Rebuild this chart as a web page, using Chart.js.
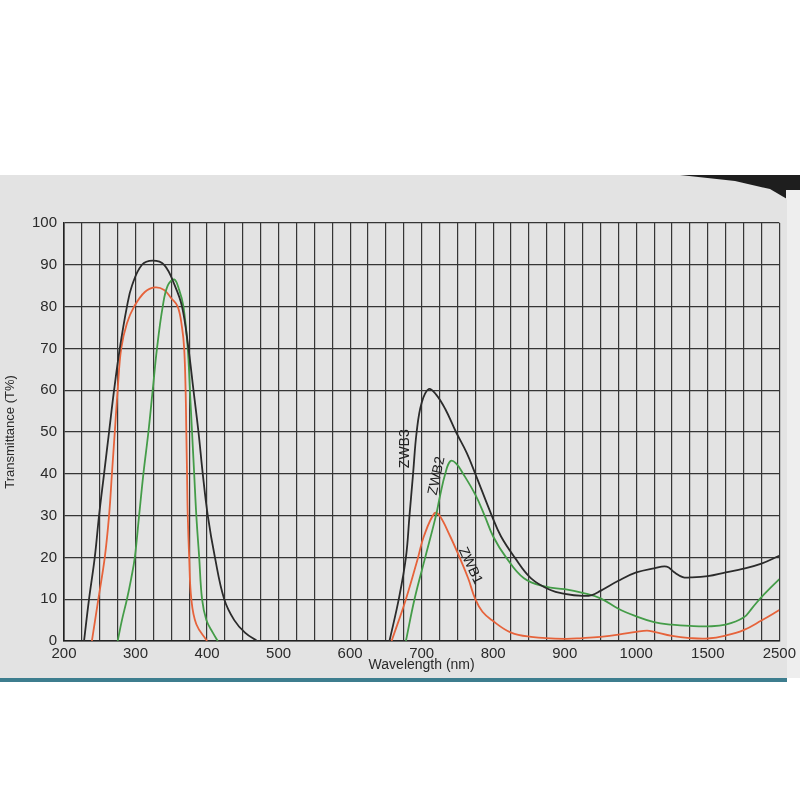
<!DOCTYPE html>
<html>
<head>
<meta charset="utf-8">
<script src="https://cdn.jsdelivr.net/npm/chart.js@4.4.1/dist/chart.umd.min.js"></script>
<style>
  html, body { margin: 0; padding: 0; background: #ffffff; }
  #corner { position: absolute; left: 640px; top: 175px; width: 160px; height: 40px; background: #1e1e1e; }
  #edge { position: absolute; left: 786px; top: 190px; width: 14px; height: 488px; background: #eeeeee; }
  #paper {
    position: absolute; left: 0; top: 175px; width: 787px; height: 503px;
    background: #e3e3e3; border-bottom: 4px solid #3d7d8e;
    clip-path: polygon(0 0, 680px 0, 735px 6px, 770px 14px, 787px 24px, 787px 100%, 0 100%);
  }
  #wrap { position: absolute; left: 0; top: 0; width: 800px; height: 800px; }
</style>
</head>
<body>
<div id="corner"></div>
<div id="edge"></div>
<div id="paper"></div>
<div id="wrap"><canvas id="chart" width="800" height="800"></canvas></div>
<script>
// wavelength axis is piecewise: evenly spaced labels, 4 grid cells each
const xLabels = ['200', '300', '400', '500', '600', '700', '800', '900', '1000', '1500', '2500'];
const tickNm = [200, 300, 400, 500, 600, 700, 800, 900, 1000, 1500, 2500];

// ZWB3 (black)
const zwb3Nm = [228, 235, 243, 249, 256, 263, 270, 278, 288, 295, 309, 324, 340, 355, 365, 374, 381, 388, 394, 401, 411, 424, 438, 453, 470,
  550,
  655, 668, 678, 683, 688, 693, 700, 710, 720, 733, 748, 763, 775, 798, 811, 830, 853, 880, 900, 925, 938, 950, 975, 1000,
  1125, 1213, 1263, 1325, 1375, 1500, 1750, 2000, 2250, 2500];
const zwb3T = [0, 10, 20, 30, 40, 50, 60, 70, 80, 85, 90, 91, 90, 85, 80, 70, 60, 50, 40, 30, 20, 10, 5, 2, 0,
  null,
  0, 10, 20, 30, 40, 50, 57, 60.3, 59, 55.5, 50, 45, 40, 30, 25, 20, 15, 12.2, 11.3, 10.8, 11, 12, 14.4, 16.4,
  17.4, 17.8, 16.5, 15.3, 15.2, 15.5, 16.4, 17.3, 18.5, 20.4];

// ZWB2 (green)
const zwb2Nm = [275, 281, 288, 294, 299, 305, 311, 318, 324, 330, 338, 345, 354, 361, 367, 373, 376, 379, 382, 385, 389, 393, 399, 408, 415,
  550,
  678, 690, 705, 720, 726, 733, 740, 748, 758, 775, 788, 800, 818, 843, 873, 900, 925, 950, 975, 1000,
  1125, 1250, 1375, 1500, 1750, 2000, 2125, 2250, 2375, 2500];
const zwb2T = [0, 5, 10, 15, 20, 30, 40, 50, 60, 70, 80, 85, 86.5, 84, 80, 70, 60, 50, 40, 30, 20, 10, 5, 2, 0,
  null,
  0, 10, 20, 30, 35, 40, 43, 42.5, 40, 35, 30, 25, 20, 15, 13, 12.4, 11.5, 10.2, 7.7, 5.9,
  4.5, 3.9, 3.6, 3.5, 3.9, 5.6, 8, 10.5, 12.7, 14.8];

// ZWB1 (orange)
const zwb1Nm = [239, 248, 257, 263, 267, 271, 275, 280, 288, 298, 313, 327, 340, 350, 359, 365, 368, 370, 371, 372, 373, 375, 378, 385, 400,
  550,
  658, 678, 695, 703, 718, 725, 740, 753, 765, 775, 785, 798, 825, 853, 900, 925, 950, 975, 1000,
  1075, 1125, 1250, 1375, 1500, 1750, 2000, 2250, 2500];
const zwb1T = [0, 10, 20, 30, 40, 50, 60, 70, 76, 80, 83.5, 84.6, 84, 82, 80, 75, 70, 60, 50, 40, 30, 20, 10, 4, 0,
  null,
  0, 10, 20, 25, 30.6, 30, 25, 20, 15, 10, 7, 5, 2, 1, 0.5, 0.7, 1.0, 1.5, 2.2,
  2.5, 2.2, 1.2, 0.7, 0.6, 1.3, 2.6, 4.9, 7.4];

const curveTags = [
  { text: 'ZWB3', nm: 677, t: 46, angle: -90 },
  { text: 'ZWB2', nm: 721, t: 39.5, angle: -78 },
  { text: 'ZWB1', nm: 768, t: 18, angle: 65 }
];

function nmToPos(w) {
  for (let i = 0; i < tickNm.length - 1; i++) {
    if (w <= tickNm[i + 1]) {
      return 4 * (i + (w - tickNm[i]) / (tickNm[i + 1] - tickNm[i]));
    }
  }
  return 4 * (tickNm.length - 1);
}

function toPoints(nm, t) {
  return nm.map((w, i) => ({ x: nmToPos(w), y: t[i] }));
}

const tagPlugin = {
  id: 'curveTags',
  afterDatasetsDraw(chart) {
    const { ctx, scales: { x, y } } = chart;
    ctx.save();
    ctx.fillStyle = '#222';
    ctx.font = '14px "Liberation Sans", Arial, sans-serif';
    ctx.textAlign = 'center';
    ctx.textBaseline = 'middle';
    curveTags.forEach(tag => {
      ctx.save();
      ctx.translate(x.getPixelForValue(nmToPos(tag.nm)), y.getPixelForValue(tag.t));
      ctx.rotate(tag.angle * Math.PI / 180);
      ctx.fillText(tag.text, 0, 0);
      ctx.restore();
    });
    ctx.restore();
  }
};

const line = (label, nm, t, color) => ({
  label,
  data: toPoints(nm, t),
  borderColor: color,
  borderWidth: 1.8,
  pointRadius: 0,
  tension: 0.4,
  spanGaps: false,
  fill: false
});

const gridColor = '#353535';
const textColor = '#2a2a2a';
const font = '"Liberation Sans", Arial, sans-serif';

new Chart(document.getElementById('chart').getContext('2d'), {
  type: 'line',
  data: {
    datasets: [
      line('ZWB3', zwb3Nm, zwb3T, '#2b2b2b'),
      line('ZWB2', zwb2Nm, zwb2T, '#449c48'),
      line('ZWB1', zwb1Nm, zwb1T, '#e6633b')
    ]
  },
  options: {
    responsive: false,
    animation: false,
    layout: { padding: { top: 223, right: 20, bottom: 123, left: 0 } },
    plugins: {
      legend: { display: false },
      tooltip: { enabled: false }
    },
    scales: {
      x: {
        type: 'linear',
        min: 0,
        max: 40,
        afterFit: s => { s.height = 36; },
        ticks: {
          stepSize: 1,
          autoSkip: false,
          maxRotation: 0,
          padding: 4,
          color: textColor,
          font: { family: font, size: 15 },
          callback: v => v % 4 === 0 ? xLabels[v / 4] : ''
        },
        grid: { color: gridColor, lineWidth: 1.2, drawTicks: false },
        border: { color: '#222', width: 1.6 },
        title: {
          display: true,
          text: 'Wavelength (nm)',
          color: textColor,
          font: { family: font, size: 14 },
          padding: { top: 0, bottom: 3 }
        }
      },
      y: {
        min: 0,
        max: 100,
        afterFit: s => { s.width = 64; },
        ticks: {
          stepSize: 10,
          padding: 7,
          color: textColor,
          font: { family: font, size: 15 }
        },
        grid: { color: gridColor, lineWidth: 1.2, drawTicks: false },
        border: { color: '#222', width: 1.6 },
        title: {
          display: true,
          text: 'Transmittance (T%)',
          color: textColor,
          font: { family: font, size: 13 },
          padding: { top: 3, bottom: 0 }
        }
      }
    }
  },
  plugins: [tagPlugin]
});
</script>
</body>
</html>
